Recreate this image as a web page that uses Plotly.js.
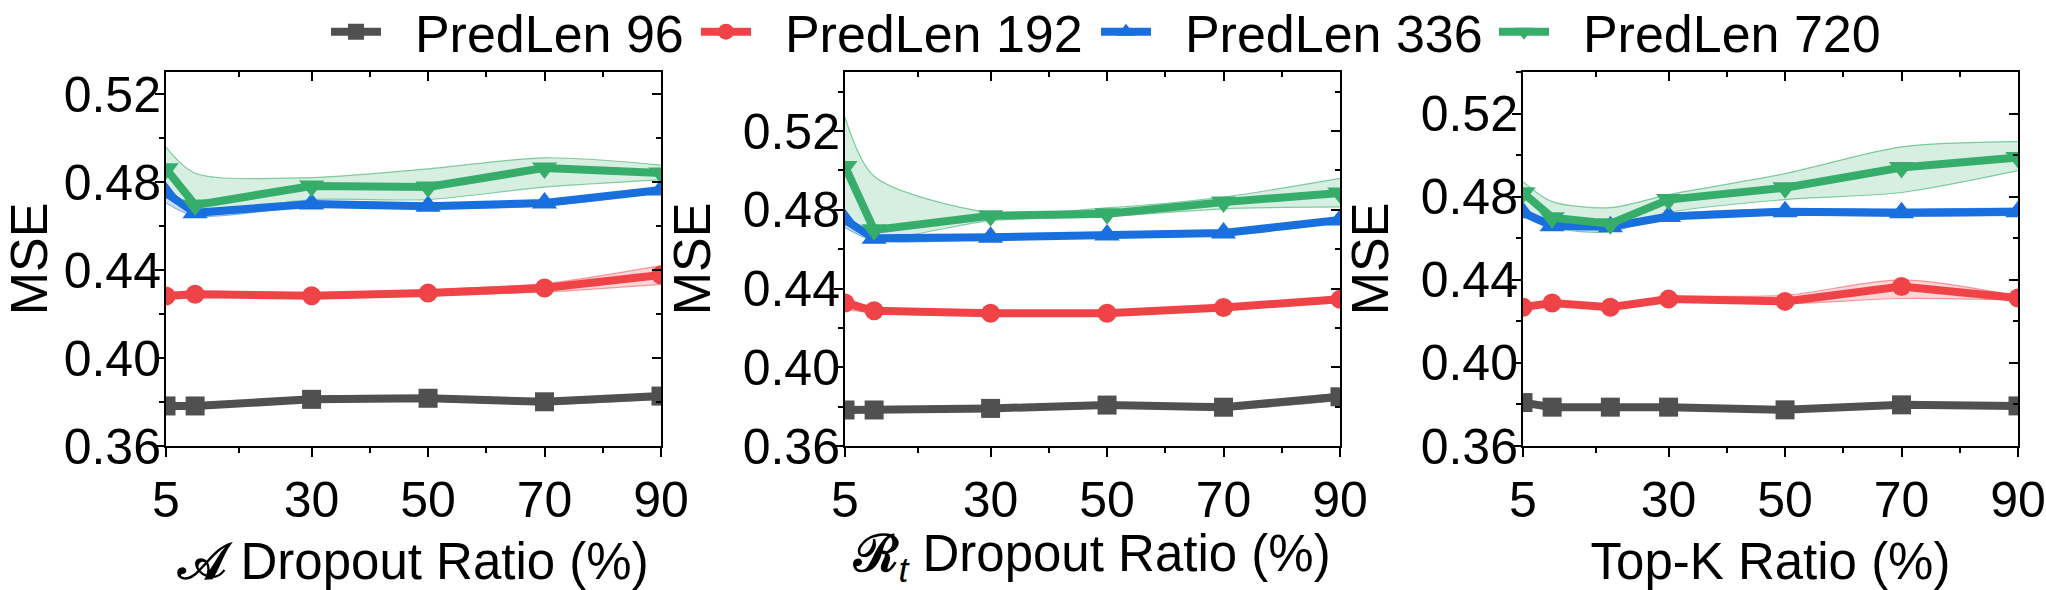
<!DOCTYPE html>
<html>
<head>
<meta charset="utf-8">
<script src="https://cdn.plot.ly/plotly-3.0.1.min.js"></script>
<style>html,body{margin:0;padding:0;background:#fff;}#chart{width:2046px;height:590px;}</style>
</head>
<body>
<div id="chart"></div>
<script>
// ---------- data ----------
const seriesNames = ['PredLen 96', 'PredLen 192', 'PredLen 336', 'PredLen 720'];
const xDrop = [5, 10, 30, 50, 70, 90];
const xTopK = [5, 10, 20, 30, 50, 70, 90];
const xTickVals = [5, 30, 50, 70, 90];
const xMinorVals = [17.5, 40, 60, 80];
const yTickVals = [0.36, 0.40, 0.44, 0.48, 0.52];
const yTickText = ['0.36', '0.40', '0.44', '0.48', '0.52'];
const xTitles = ['<b>𝒜</b> Dropout Ratio (%)', '<b>ℛ</b><sub><i>t</i></sub> Dropout Ratio (%)', 'Top-K Ratio (%)'];
const yRanges = [[0.36, 0.53], [0.36, 0.55], [0.36, 0.54]];

// panel 1: A dropout ratio
const a96 = [0.3782, 0.3782, 0.3812, 0.3817, 0.3801, 0.3827];
const a96Lo = [0.3770, 0.3770, 0.3800, 0.3805, 0.3790, 0.3812];
const a96Hi = [0.3794, 0.3794, 0.3824, 0.3829, 0.3812, 0.3842];
const a192 = [0.4282, 0.4290, 0.4283, 0.4295, 0.4318, 0.4377];
const a192Lo = [0.4268, 0.4278, 0.4271, 0.4282, 0.4300, 0.4335];
const a192Hi = [0.4296, 0.4304, 0.4297, 0.4310, 0.4338, 0.4420];
const a336 = [0.4750, 0.4660, 0.4700, 0.4690, 0.4705, 0.4764];
const a336Lo = [0.4705, 0.4645, 0.4688, 0.4678, 0.4693, 0.4752];
const a336Hi = [0.4785, 0.4675, 0.4712, 0.4702, 0.4717, 0.4776];
const a720 = [0.4860, 0.4695, 0.4782, 0.4777, 0.4864, 0.4841];
const a720Lo = [0.4732, 0.4664, 0.4720, 0.4720, 0.4777, 0.4810];
const a720Hi = [0.4959, 0.4840, 0.4820, 0.4860, 0.4910, 0.4877];

// panel 2: R_t dropout ratio
const r96 = [0.3783, 0.3783, 0.3791, 0.3808, 0.3797, 0.3850];
const r96Lo = [0.3771, 0.3771, 0.3779, 0.3796, 0.3785, 0.3830];
const r96Hi = [0.3795, 0.3795, 0.3803, 0.3820, 0.3809, 0.3870];
const r192 = [0.4326, 0.4287, 0.4274, 0.4274, 0.4304, 0.4345];
const r192Lo = [0.4295, 0.4275, 0.4262, 0.4262, 0.4292, 0.4328];
const r192Hi = [0.4360, 0.4300, 0.4286, 0.4286, 0.4316, 0.4362];
const r336 = [0.4748, 0.4656, 0.4661, 0.4672, 0.4682, 0.4748];
const r336Lo = [0.4710, 0.4644, 0.4649, 0.4660, 0.4670, 0.4735];
const r336Hi = [0.4785, 0.4668, 0.4673, 0.4684, 0.4694, 0.4761];
const r720 = [0.5020, 0.4698, 0.4770, 0.4780, 0.4839, 0.4885];
const r720Lo = [0.4760, 0.4660, 0.4745, 0.4765, 0.4805, 0.4815];
const r720Hi = [0.5270, 0.4970, 0.4785, 0.4810, 0.4865, 0.4960];

// panel 3: Top-K ratio
const k96 = [0.3809, 0.3787, 0.3787, 0.3787, 0.3774, 0.3798, 0.3793];
const k96Lo = [0.3799, 0.3777, 0.3777, 0.3777, 0.3764, 0.3788, 0.3783];
const k96Hi = [0.3819, 0.3797, 0.3797, 0.3797, 0.3784, 0.3808, 0.3803];
const k192 = [0.4268, 0.4288, 0.4268, 0.4307, 0.4296, 0.4368, 0.4312];
const k192Lo = [0.4258, 0.4278, 0.4258, 0.4297, 0.4285, 0.4310, 0.4302];
const k192Hi = [0.4278, 0.4298, 0.4278, 0.4317, 0.4325, 0.4400, 0.4322];
const k336 = [0.4723, 0.4660, 0.4655, 0.4704, 0.4728, 0.4723, 0.4728];
const k336Lo = [0.4705, 0.4648, 0.4645, 0.4690, 0.4712, 0.4705, 0.4710];
const k336Hi = [0.4740, 0.4672, 0.4665, 0.4716, 0.4742, 0.4740, 0.4745];
const k720 = [0.4819, 0.4699, 0.4670, 0.4786, 0.4843, 0.4940, 0.4988];
const k720Lo = [0.4752, 0.4655, 0.4631, 0.4723, 0.4786, 0.4820, 0.4925];
const k720Hi = [0.4872, 0.4776, 0.4747, 0.4810, 0.4911, 0.5040, 0.5065];

// ---------- styles ----------
const colors = ['#505050', '#f04347', '#1a6fdf', '#37ad6b'];
const fills = ['rgba(80,80,80,0.22)', 'rgba(240,67,71,0.22)', 'rgba(26,111,223,0.22)', 'rgba(55,173,107,0.2)'];
const edges = ['rgba(80,80,80,0.5)', 'rgba(240,67,71,0.5)', 'rgba(26,111,223,0.5)', 'rgba(55,173,107,0.6)'];
const symbols = ['square', 'circle', 'triangle-up', 'triangle-down'];
const markerSizes = [19, 19, 22, 22];
const FONT = '"Liberation Sans", Arial, Helvetica, sans-serif';
const legendX = [326, 696, 1096, 1494];
const NBSP2 = '\u00a0\u00a0';

const panels = [
  {x: xDrop, mean: [a96, a192, a336, a720], lo: [a96Lo, a192Lo, a336Lo, a720Lo], hi: [a96Hi, a192Hi, a336Hi, a720Hi]},
  {x: xDrop, mean: [r96, r192, r336, r720], lo: [r96Lo, r192Lo, r336Lo, r720Lo], hi: [r96Hi, r192Hi, r336Hi, r720Hi]},
  {x: xTopK, mean: [k96, k192, k336, k720], lo: [k96Lo, k192Lo, k336Lo, k720Lo], hi: [k96Hi, k192Hi, k336Hi, k720Hi]}
];

const xDomains = [[166 / 2046, 661 / 2046], [845 / 2046, 1340 / 2046], [1523 / 2046, 2018 / 2046]];
const yDomain = [(590 - 446) / 590, (590 - 72) / 590];

const traces = [];
const layout = {
  width: 2046, height: 590,
  margin: {l: 0, r: 0, t: 0, b: 0, autoexpand: false},
  paper_bgcolor: '#fff', plot_bgcolor: '#fff',
  font: {family: FONT, color: '#000', size: 50},
  showlegend: true
};
legendX.forEach((lx, s) => {
  layout['legend' + (s === 0 ? '' : s + 1)] = {
    orientation: 'h', x: lx / 2046, xanchor: 'left', y: 0.946, yanchor: 'middle',
    font: {family: FONT, size: 52, color: '#000'},
    bgcolor: 'rgba(0,0,0,0)', itemwidth: 50, borderwidth: 0
  };
});

panels.forEach((p, i) => {
  const n = i + 1;
  const xa = 'x' + (n === 1 ? '' : n), ya = 'y' + (n === 1 ? '' : n);
  const xo = 'x' + (n + 3), yo = 'y' + (n + 3);
  // bands
  for (let s = 0; s < 4; s++) {
    traces.push({x: p.x, y: p.lo[s], xaxis: xa, yaxis: ya, mode: 'lines', showlegend: false, hoverinfo: 'skip',
      line: {color: edges[s], width: 1.2, shape: 'spline', smoothing: 0.8}});
    traces.push({x: p.x, y: p.hi[s], xaxis: xa, yaxis: ya, mode: 'lines', showlegend: false, hoverinfo: 'skip',
      fill: 'tonexty', fillcolor: fills[s],
      line: {color: edges[s], width: 1.2, shape: 'spline', smoothing: 0.8}});
  }
  // lines
  for (let s = 0; s < 4; s++) {
    traces.push({x: p.x, y: p.mean[s], xaxis: xa, yaxis: ya, mode: 'lines+markers', name: NBSP2 + seriesNames[s],
      legend: 'legend' + (s === 0 ? '' : s + 1), showlegend: i === 0,
      line: {color: colors[s], width: 8},
      marker: {symbol: symbols[s], size: markerSizes[s], color: colors[s], line: {width: 0}}});
  }
  // dummy for overlay axes (mirrored inward ticks)
  traces.push({x: [], y: [], xaxis: xo, yaxis: yo, mode: 'markers', showlegend: false, hoverinfo: 'skip'});

  const xr = [5, 90];
  layout['xaxis' + (n === 1 ? '' : n)] = {
    domain: xDomains[i], anchor: ya, range: xr, fixedrange: true,
    tickmode: 'array', tickvals: xTickVals, ticktext: xTickVals.map(String),
    ticks: 'outside', ticklen: 9, tickwidth: 2, tickcolor: '#000',
    minor: {tickmode: 'array', tickvals: xMinorVals, ticks: 'outside', ticklen: 5, tickwidth: 2, tickcolor: '#000'},
    showline: true, linecolor: '#000', linewidth: 2, mirror: true,
    showgrid: false, zeroline: false,
    tickfont: {family: FONT, size: 50, color: '#000'},
    title: {text: xTitles[i], font: {family: FONT, size: 51, color: '#000'}, standoff: 28}
  };
  layout['yaxis' + (n === 1 ? '' : n)] = {
    domain: yDomain, anchor: xa, range: yRanges[i], fixedrange: true,
    tickmode: 'array', tickvals: yTickVals, ticktext: yTickText,
    ticks: 'outside', ticklen: 9, tickwidth: 2, tickcolor: '#000', ticklabelstandoff: -16,
    minor: {tickmode: 'linear', tick0: 0.36, dtick: 0.02, ticks: 'outside', ticklen: 5, tickwidth: 2, tickcolor: '#000'},
    showline: true, linecolor: '#000', linewidth: 2, mirror: true,
    showgrid: false, zeroline: false,
    tickfont: {family: FONT, size: 50, color: '#000'},
    title: {text: 'MSE', font: {family: FONT, size: 52, color: '#000'}, standoff: 15}
  };
  layout['xaxis' + (n + 3)] = {
    overlaying: xa, side: 'top', anchor: yo, range: xr, fixedrange: true,
    tickmode: 'array', tickvals: xTickVals, showticklabels: false,
    ticks: 'inside', ticklen: 9, tickwidth: 2, tickcolor: '#000',
    minor: {tickmode: 'array', tickvals: xMinorVals, ticks: 'inside', ticklen: 5, tickwidth: 2, tickcolor: '#000'},
    showline: false, showgrid: false, zeroline: false
  };
  layout['yaxis' + (n + 3)] = {
    overlaying: ya, side: 'right', anchor: xo, range: yRanges[i], fixedrange: true,
    tickmode: 'array', tickvals: yTickVals, showticklabels: false,
    ticks: 'inside', ticklen: 9, tickwidth: 2, tickcolor: '#000',
    minor: {tickmode: 'linear', tick0: 0.36, dtick: 0.02, ticks: 'inside', ticklen: 5, tickwidth: 2, tickcolor: '#000'},
    showline: false, showgrid: false, zeroline: false
  };
});

Plotly.newPlot('chart', traces, layout, {staticPlot: true, displayModeBar: false});
</script>
</body>
</html>
